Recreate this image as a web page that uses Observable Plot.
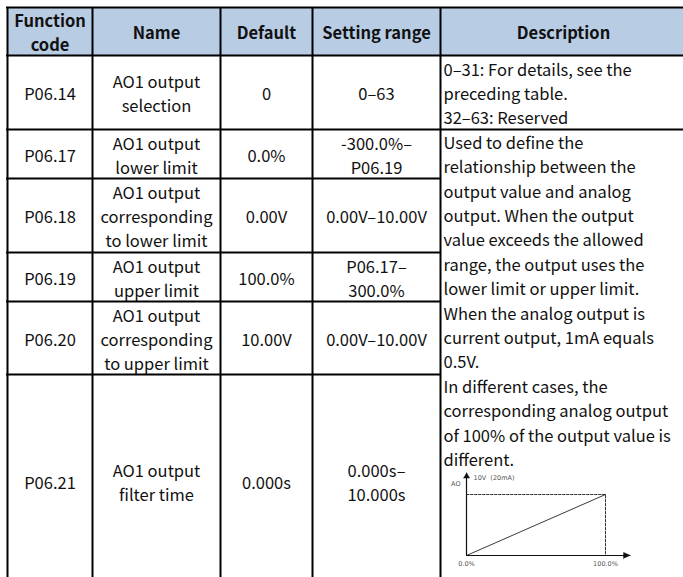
<!DOCTYPE html>
<html><head><meta charset="utf-8">
<script src="https://cdn.jsdelivr.net/npm/d3@7"></script>
<script src="https://cdn.jsdelivr.net/npm/@observablehq/plot@0.6"></script>
<style>
body{margin:0;background:#fff;}
#wrap{position:relative;width:683px;height:577px;overflow:hidden;background:#fff;}
#wrap svg{position:absolute;left:0;top:0;}
#mini{position:absolute;left:440px;top:462px;width:240px;height:115px;}
#mini svg{position:absolute;left:0;top:0;}
</style></head><body><div id="wrap"><div id="mini"></div></div>
<script>
// ---------- table content ----------
const headers = ["Function\ncode", "Name", "Default", "Setting range", "Description"];
const codes = ["P06.14", "P06.17", "P06.18", "P06.19", "P06.20", "P06.21"];
const names = ["AO1 output\nselection", "AO1 output\nlower limit", "AO1 output\ncorresponding\nto lower limit",
               "AO1 output\nupper limit", "AO1 output\ncorresponding\nto upper limit", "AO1 output\nfilter time"];
const defaults = ["0", "0.0%", "0.00V", "100.0%", "10.00V", "0.000s"];
const ranges = ["0–63", "-300.0%–\nP06.19", "0.00V–10.00V", "P06.17–\n300.0%", "0.00V–10.00V", "0.000s–\n10.000s"];
const descFirst = "0–31: For details, see the\npreceding table.\n32–63: Reserved";
const descMerged = [
  "Used to define the", "relationship between the", "output value and analog",
  "output. When the output", "value exceeds the allowed", "range, the output uses the",
  "lower limit or upper limit.", "When the analog output is", "current output, 1mA equals",
  "0.5V.", "In different cases, the", "corresponding analog output",
  "of 100% of the output value is", "different."
].join("\n");

// ---------- mini chart content ----------
const miniPct = [0, 100];          // output value, %
const miniVolt = [0, 10];          // analog output, V
const miniTickLabels = ["0.0%", "100.0%"];
const miniYLabel = "10V  (20mA)";
const miniAxisName = "AO";

// ---------- layout ----------
const FONT = '"Noto Sans CJK SC", "Noto Sans", sans-serif';
const colEdges = [7, 92, 220, 312, 440, 686];
const rowEdges = [7, 55, 129, 178, 252, 301, 374, 588];
const FS = 16.5, LH = 24, LH2 = 24.4;

const cx = i => (colEdges[i] + colEdges[i + 1]) / 2;
const cy = r => (rowEdges[r] + rowEdges[r + 1]) / 2;

const headCells = headers.map((t, i) => ({x: cx(i), y: cy(0), t}));
const bodyCells = [];
codes.forEach((c, r) => {
  bodyCells.push({x: cx(0), y: cy(r + 1), t: c});
  bodyCells.push({x: cx(1), y: cy(r + 1), t: names[r]});
  bodyCells.push({x: cx(2), y: cy(r + 1), t: defaults[r]});
  bodyCells.push({x: cx(3), y: cy(r + 1), t: ranges[r]});
});
const descCells = [{x: colEdges[4] + 3, y: cy(1), t: descFirst}];
const descTop = [{x: colEdges[4] + 3, y: rowEdges[2] + 2, t: descMerged}];

const W = 683, H = 577, RIGHT = 700, BOTTOM = 640;
const vlines = colEdges.slice(0, 5).map(x => ({x, y1: rowEdges[0], y2: BOTTOM}));
const hlines = rowEdges.slice(0, 7).map((y, i) => ({y, x1: colEdges[0] - 1, x2: i <= 2 ? RIGHT : colEdges[4]}));
const headFill = [{x1: colEdges[0], x2: RIGHT, y1: rowEdges[0], y2: rowEdges[1]}];

const main = Plot.plot({
  width: W, height: H, margin: 0,
  x: {domain: [0, W], range: [0, W], axis: null},
  y: {domain: [0, H], range: [0, H], axis: null},
  style: {fontFamily: FONT, background: "transparent", color: "#111"},
  marks: [
    Plot.rect(headFill, {x1: "x1", x2: "x2", y1: "y1", y2: "y2", fill: "#b8cce4"}),
    Plot.text(headCells, {x: "x", y: "y", text: "t", fontSize: FS, fontWeight: "bold", lineHeight: LH / FS, lineAnchor: "middle", fill: "#111"}),
    Plot.text(bodyCells, {x: "x", y: "y", text: "t", fontSize: FS, lineHeight: LH / FS, lineAnchor: "middle", fill: "#111"}),
    Plot.text(descCells, {x: "x", y: "y", text: "t", fontSize: FS, lineHeight: LH / FS, lineAnchor: "middle", textAnchor: "start", fill: "#111"}),
    Plot.text(descTop, {x: "x", y: "y", text: "t", fontSize: FS, lineHeight: LH2 / FS, lineAnchor: "top", textAnchor: "start", fill: "#111"}),
    Plot.ruleX(vlines, {x: "x", y1: "y1", y2: "y2", stroke: "#000", strokeWidth: 2}),
    Plot.ruleY(hlines, {y: "y", x1: "x1", x2: "x2", stroke: "#000", strokeWidth: 2})
  ]
});
document.getElementById("wrap").prepend(main);

// ---------- mini chart ----------
const xEnd = 118, yEnd = 13.6;
const linePts = miniPct.map((p, i) => ({p, v: miniVolt[i]}));
const dashPts = [{p: miniPct[0], v: miniVolt[1]}, {p: miniPct[1], v: miniVolt[1]}, {p: miniPct[1], v: miniVolt[0]}];
// arrowheads at the axis ends (filled triangles)
const heads = [
  {k: "x", p: xEnd, v: 0}, {k: "x", p: xEnd - 5, v: 0.5}, {k: "x", p: xEnd - 5, v: -0.5},
  {k: "y", p: 0, v: yEnd}, {k: "y", p: 2.2, v: yEnd - 0.9}, {k: "y", p: -2.2, v: yEnd - 0.9}
];
const mini = Plot.plot({
  width: 240, height: 115, margin: 0,
  x: {domain: [0, 100], range: [26, 165], axis: null},
  y: {domain: [0, 10], range: [93, 32], axis: null},
  style: {fontFamily: '"DejaVu Sans", sans-serif', background: "transparent", overflow: "visible"},
  marks: [
    Plot.line(dashPts, {x: "p", y: "v", stroke: "#222", strokeWidth: 0.9, strokeDasharray: "2.5,1.5"}),
    Plot.line(linePts, {x: "p", y: "v", stroke: "#222", strokeWidth: 0.9}),
    Plot.ruleY([0], {x1: 0, x2: xEnd - 3, stroke: "#111", strokeWidth: 1.2}),
    Plot.ruleX([0], {y1: 0, y2: yEnd - 0.6, stroke: "#111", strokeWidth: 1.2}),
    Plot.line(heads, {x: "p", y: "v", z: "k", fill: "#111", stroke: "#111", strokeWidth: 0.5}),
    Plot.text(miniPct.map((p, i) => ({p, t: miniTickLabels[i]})), {x: "p", y: 0, text: "t", dy: 8, fontSize: 6.5, fill: "#555"}),
    Plot.text([{p: 0, v: 12.8, t: miniYLabel}], {x: "p", y: "v", text: "t", dx: 7, textAnchor: "start", fontSize: 6.5, fill: "#555"}),
    Plot.text([{p: 0, v: 11.8, t: miniAxisName}], {x: "p", y: "v", text: "t", dx: -6, textAnchor: "end", fontSize: 6.5, fill: "#555"})
  ]
});
document.getElementById("mini").appendChild(mini);
</script></body></html>
